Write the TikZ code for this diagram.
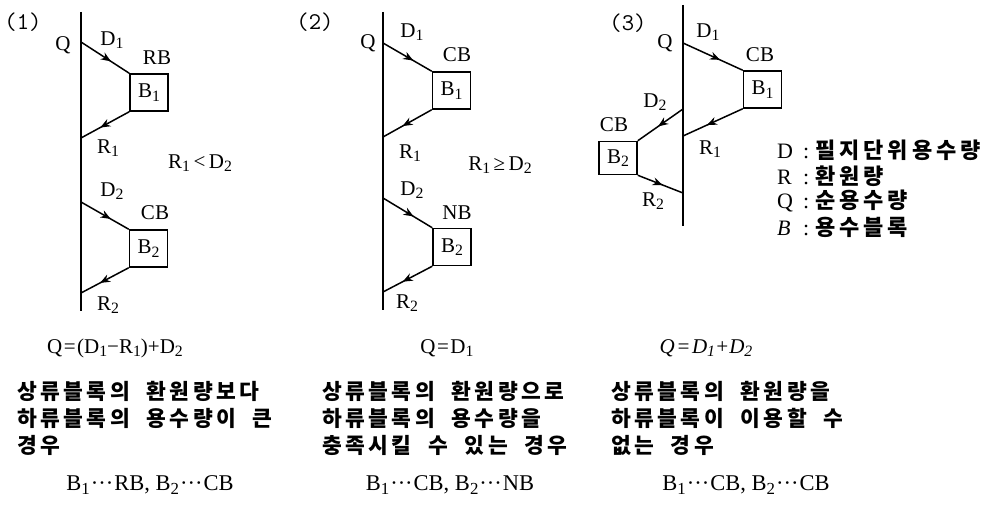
\documentclass[tikz,border=0pt]{standalone}
\usepackage{fontspec}
\usepackage{amsmath,amssymb}
\usetikzlibrary{arrows.meta,positioning,decorations.markings}
\setmainfont{Liberation Serif}
\newfontfamily\krfont[LetterSpace=16,WordSpace=2]{Noto Sans CJK KR}
\newfontfamily\krwide[LetterSpace=18]{Noto Sans CJK KR}
\tikzset{
  wb/stream/.style={line width=1.8pt},
  wb/flow/.style={line width=1.5pt, postaction={decorate},
    decoration={markings, mark=at position #1 with {\arrow{Stealth[length=10pt,width=8pt]}}}},
  wb/flow/.default=0.62,
  wb/block/.style={draw, line width=1.5pt, minimum width=38pt, minimum height=37pt, inner sep=0pt, font=\fontsize{21}{24}\selectfont},
  wb/lab/.style={inner sep=0pt, font=\fontsize{21}{24}\selectfont},
  wb/num/.style={inner sep=0pt, font=\ttfamily\fontsize{24}{26}\selectfont},
  wb/eq/.style={inner sep=0pt, font=\fontsize{21}{24}\selectfont},
  wb/cls/.style={inner sep=0pt, font=\fontsize{22.5}{24}\selectfont},
  wb/kr/.style={anchor=west, inner sep=0pt, align=left, font=\krfont\bfseries\fontsize{21.5}{27}\selectfont},
  wb/key/.style={anchor=west, inner sep=0pt, font=\fontsize{22}{24}\selectfont},
}
\newcommand{\lo}[1]{\raisebox{-0.35ex}{\scalebox{0.75}{#1}}}
\newcommand{\dd}{\kern1pt···\kern1pt}
\newcommand{\eqs}{\kern1.5pt=\kern1.5pt}
\newcommand{\keyrow}[2]{\makebox[26pt][l]{#1}:\hspace{6pt}{\krwide\bfseries #2}}

\begin{document}
\begin{tikzpicture}[x=1pt, y=-1pt]
  \useasboundingbox (0,0) rectangle (997,505);

  % (1) upstream return is smaller than downstream demand
  \node[wb/num] (n1) at (23,22) {(1)};
  \coordinate (s1top) at (81,12);
  \coordinate (s1bot) at (81,311);
  \draw[wb/stream] (s1top) -- (s1bot);
  \coordinate (s1d1) at (81,42);
  \coordinate (s1r1) at (81,138);
  \coordinate (s1d2) at (81,202);
  \coordinate (s1r2) at (81,293);
  \node[wb/block] (s1b1) at (149,92.5) {B\lo{1}};
  \node[wb/block] (s1b2) at (148.5,248.5) {B\lo{2}};
  \draw[wb/flow] (s1d1) -- (s1b1.north west);
  \draw[wb/flow=0.6] (s1b1.south west) -- (s1r1);
  \draw[wb/flow] (s1d2) -- (s1b2.north west);
  \draw[wb/flow=0.6] (s1b2.south west) -- (s1r2);
  \node[wb/lab] (s1q) at (63,45) {Q};
  \node[wb/lab] (s1ld1) at (112,40) {D\lo{1}};
  \node[wb/lab] (s1t1) at (157,58) {RB};
  \node[wb/lab] (s1lr1) at (108,148) {R\lo{1}};
  \node[wb/lab] (s1cmp) at (200,163) {R\lo{1}\,<\,D\lo{2}};
  \node[wb/lab] (s1ld2) at (112,191) {D\lo{2}};
  \node[wb/lab] (s1t2) at (155,213) {CB};
  \node[wb/lab] (s1lr2) at (108,305) {R\lo{2}};

  % (2) upstream return covers downstream demand
  \node[wb/num] (n2) at (315,22) {(2)};
  \coordinate (s2top) at (383,12);
  \coordinate (s2bot) at (383,310);
  \draw[wb/stream] (s2top) -- (s2bot);
  \coordinate (s2d1) at (383,43);
  \coordinate (s2r1) at (383,137);
  \coordinate (s2d2) at (383,198);
  \coordinate (s2r2) at (383,292);
  \node[wb/block] (s2b1) at (451.5,90.5) {B\lo{1}};
  \node[wb/block] (s2b2) at (452,247) {B\lo{2}};
  \draw[wb/flow] (s2d1) -- (s2b1.north west);
  \draw[wb/flow=0.6] (s2b1.south west) -- (s2r1);
  \draw[wb/flow] (s2d2) -- (s2b2.north west);
  \draw[wb/flow=0.6] (s2b2.south west) -- (s2r2);
  \node[wb/lab] (s2q) at (368,43) {Q};
  \node[wb/lab] (s2ld1) at (412,32) {D\lo{1}};
  \node[wb/lab] (s2t1) at (457,55) {CB};
  \node[wb/lab] (s2lr1) at (410,153) {R\lo{1}};
  \node[wb/lab] (s2cmp) at (500,165) {R\lo{1}\,≥\,D\lo{2}};
  \node[wb/lab] (s2ld2) at (412,190) {D\lo{2}};
  \node[wb/lab] (s2t2) at (457,213) {NB};
  \node[wb/lab] (s2lr2) at (407,303) {R\lo{2}};

  % (3) downstream block cannot use upstream return
  \node[wb/num] (n3) at (628,23) {(3)};
  \coordinate (s3top) at (683,5);
  \coordinate (s3bot) at (683,226);
  \draw[wb/stream] (s3top) -- (s3bot);
  \coordinate (s3d1) at (683,43);
  \coordinate (s3r1) at (683,136);
  \coordinate (s3d2) at (683,109);
  \coordinate (s3r2) at (683,193);
  \node[wb/block] (s3b1) at (762.5,89.5) {B\lo{1}};
  \node[wb/block, minimum height=33pt] (s3b2) at (618,158) {B\lo{2}};
  \draw[wb/flow] (s3d1) -- (s3b1.north west);
  \draw[wb/flow=0.6] (s3b1.south west) -- (s3r1);
  \draw[wb/flow=0.55] (s3d2) -- (s3b2.north east);
  \draw[wb/flow=0.55] (s3b2.south east) -- (s3r2);
  \node[wb/lab] (s3q) at (665,43) {Q};
  \node[wb/lab] (s3ld1) at (708,32) {D\lo{1}};
  \node[wb/lab] (s3t1) at (760,55) {CB};
  \node[wb/lab] (s3lr1) at (710,149) {R\lo{1}};
  \node[wb/lab] (s3ld2) at (655,102) {D\lo{2}};
  \node[wb/lab] (s3t2) at (614,125) {CB};
  \node[wb/lab] (s3lr2) at (653,201) {R\lo{2}};

  % legend
  \node[wb/key] (k1) at (777,150) {\keyrow{D}{필지단위용수량}};
  \node[wb/key] (k2) at (777,176) {\keyrow{R}{환원량}};
  \node[wb/key] (k3) at (777,201) {\keyrow{Q}{순용수량}};
  \node[wb/key] (k4) at (777,227) {\keyrow{\textit{B}}{용수블록}};

  % captions
  \node[wb/eq] (e1) at (115,348) {Q\eqs(D\lo{1}−R\lo{1})+D\lo{2}};
  \node[wb/eq] (e2) at (447,348) {Q\eqs D\lo{1}};
  \node[wb/eq] (e3) at (706,348) {\itshape Q\eqs D\lo{1}+D\lo{2}};
  \node[wb/kr] (c1) at (17,418) {상류블록의 환원량보다\\하류블록의 용수량이 큰\\경우};
  \node[wb/kr] (c2) at (322,418) {상류블록의 환원량으로\\하류블록의 용수량을\\충족시킬 수 있는 경우};
  \node[wb/kr] (c3) at (611,418) {상류블록의 환원량을\\하류블록이 이용할 수\\없는 경우};
  \node[wb/cls] (m1) at (150,485) {B\lo{1}\dd RB, B\lo{2}\dd CB};
  \node[wb/cls] (m2) at (450,485) {B\lo{1}\dd CB, B\lo{2}\dd NB};
  \node[wb/cls] (m3) at (746,485) {B\lo{1}\dd CB, B\lo{2}\dd CB};
\end{tikzpicture}
\end{document}
